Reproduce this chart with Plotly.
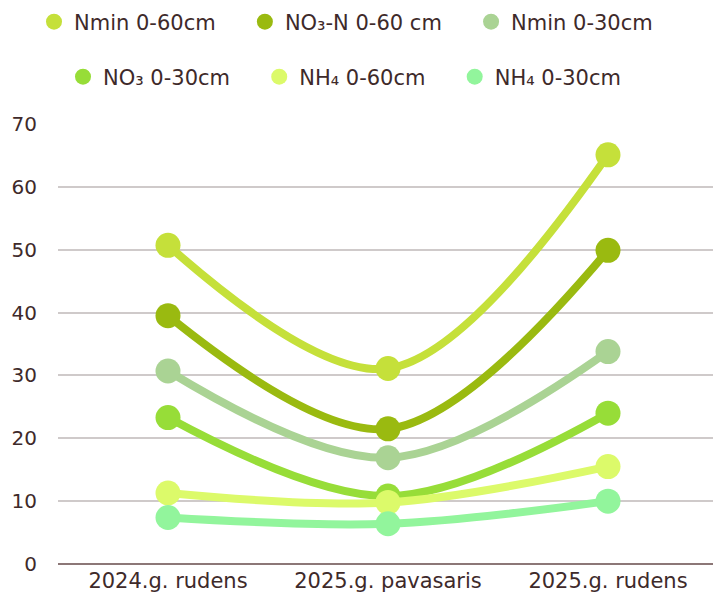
import plotly.graph_objects as go

categories = ["2024.g. rudens", "2025.g. pavasaris", "2025.g. rudens"]
series_names = ["Nmin 0-60cm", "NO₃-N 0-60 cm", "Nmin 0-30cm", "NO₃ 0-30cm", "NH₄ 0-60cm", "NH₄ 0-30cm"]
nmin_60 = [50.7, 31.1, 65.1]
no3n_60 = [39.5, 21.5, 49.9]
nmin_30 = [30.7, 16.9, 33.8]
no3_30 = [23.3, 10.8, 24.0]
nh4_60 = [11.3, 9.8, 15.5]
nh4_30 = [7.4, 6.4, 10.0]
colors = ["#c5e03a", "#9aba10", "#aad394", "#97dd38", "#dcfa6a", "#92f59c"]
values = [nmin_60, no3n_60, nmin_30, no3_30, nh4_60, nh4_30]

FONT = "DejaVu Sans"
TXT = "#3e2a2a"
W, H = 713, 588  # page body has an 8px margin

fig = go.Figure()
for name, vals, col in zip(series_names, values, colors):
    fig.add_trace(go.Scatter(
        x=categories, y=vals, mode="lines+markers", name=name,
        line=dict(color=col, width=8, shape="spline", smoothing=1),
        marker=dict(color=col, size=25),
        showlegend=False, hoverinfo="x+y+name",
    ))

pad = "\u00a0\u00a0\u00a0\u2009"
for i, (name, col) in enumerate(zip(series_names, colors)):
    label = name + (pad if i not in (2, 5) else "")
    fig.add_trace(go.Scatter(
        x=[None], y=[None], mode="markers", name=label,
        marker=dict(color=col, size=18),
        legend="legend" if i < 3 else "legend2",
    ))

legend_common = dict(orientation="h", font=dict(family=FONT, size=21, color=TXT),
                     bgcolor="rgba(0,0,0,0)", itemclick=False, itemdoubleclick=False,
                     xref="container", yref="container", yanchor="middle", xanchor="left")

fig.update_layout(
    width=W, height=H,
    margin=dict(l=50, r=3, t=116, b=32),
    paper_bgcolor="white", plot_bgcolor="white",
    font=dict(family=FONT, size=21, color=TXT),
    legend=dict(x=26 / W, y=1 - 14 / H, **legend_common),
    legend2=dict(x=55 / W, y=1 - 69 / H, **legend_common),
    xaxis=dict(range=[-0.5, 2.5], showgrid=False, showline=False, ticks="", zeroline=False,
               tickfont=dict(family=FONT, size=21, color=TXT),
               ticklabelstandoff=2, automargin=False),
    yaxis=dict(range=[0, 70], dtick=10, showgrid=True, gridcolor="#cfcaca", gridwidth=2,
               zeroline=True, zerolinecolor="#8c7777", zerolinewidth=2,
               showline=False, ticks="", ticklabelstandoff=20, automargin=False,
               tickfont=dict(family=FONT, size=20, color=TXT)),
)

fig.write_html("out.html")
